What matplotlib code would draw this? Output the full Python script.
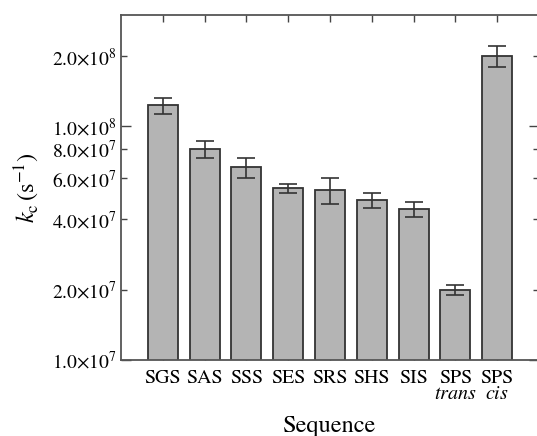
import numpy as np
import matplotlib
matplotlib.use('Agg')
import matplotlib.pyplot as plt
from matplotlib.ticker import FixedLocator, NullLocator, FixedFormatter

plt.rcParams['font.family'] = 'STIXGeneral'
plt.rcParams['mathtext.fontset'] = 'stix'

# Data
sequences = ['SGS', 'SAS', 'SSS', 'SES', 'SRS', 'SHS', 'SIS',
             'SPS\n$\\mathit{trans}$', 'SPS\n$\\mathit{cis}$']
kc = [1.23e8, 8.0e7, 6.7e7, 5.43e7, 5.34e7, 4.84e7, 4.41e7, 1.99e7, 2.0e8]
kc_err = [1.0e7, 6.7e6, 6.6e6, 2.2e6, 7.0e6, 3.6e6, 3.2e6, 1.0e6, 2.0e7]

ytick_vals = [1e7, 2e7, 4e7, 6e7, 8e7, 1e8, 2e8]
ytick_labels = ['1.0$\\times$10$^7$', '2.0$\\times$10$^7$', '4.0$\\times$10$^7$',
                '6.0$\\times$10$^7$', '8.0$\\times$10$^7$', '1.0$\\times$10$^8$',
                '2.0$\\times$10$^8$']

fig = plt.figure(figsize=(5.37, 4.36), dpi=100)
ax = fig.add_axes([0.2253, 0.1743, 1.0037 - 0.2253, 0.9656 - 0.1743])

x = np.arange(len(sequences))
ax.bar(x, kc, width=0.72, color='#b4b4b4', edgecolor='#333333', linewidth=1.3, zorder=2)
ax.errorbar(x, kc, yerr=kc_err, fmt='none', ecolor='#333333', elinewidth=1.2,
            capsize=6.5, capthick=1.2, zorder=3)

ax.set_yscale('log')
ax.set_ylim(1e7, 3e8)
ax.set_xlim(-1.0, 9.0)

major = [1e7, 1e8]
minor = [v for v in ytick_vals if v not in major]
ax.yaxis.set_major_locator(FixedLocator(major))
ax.yaxis.set_minor_locator(FixedLocator(minor))
ax.yaxis.set_major_formatter(FixedFormatter([ytick_labels[0], ytick_labels[5]]))
ax.yaxis.set_minor_formatter(FixedFormatter([ytick_labels[i] for i in [1, 2, 3, 4, 6]]))

ax.set_xticks(x)
ax.set_xticklabels(sequences, linespacing=0.95)
ax.xaxis.set_minor_locator(NullLocator())

ax.tick_params(axis='both', which='both', direction='in', color='#444444',
               top=True, right=True)
ax.tick_params(axis='y', which='both', labelsize=14)
ax.tick_params(axis='x', labelsize=14.5)
ax.tick_params(axis='y', which='major', length=7, width=1.0, pad=3)
ax.tick_params(axis='y', which='minor', length=4, width=1.0, pad=3)
ax.tick_params(axis='x', which='major', length=5, width=1.0, pad=7)

for s in ax.spines.values():
    s.set_color('#555555')
    s.set_linewidth(1.3)

ax.set_xlabel('Sequence', fontsize=17.5, labelpad=8.5)
ax.set_ylabel('$k_{\\rm c}\\,(\\rm s^{-1})$', fontsize=17.5, labelpad=8)

fig.savefig('out.png', dpi=100)
